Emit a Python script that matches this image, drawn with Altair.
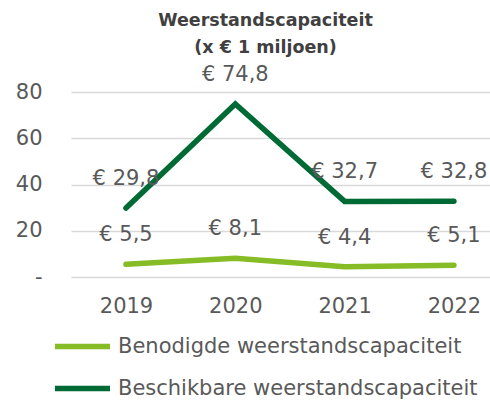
import altair as alt
import pandas as pd

years = [2019, 2020, 2021, 2022]
benodigd = [5.5, 8.1, 4.4, 5.1]
beschikbaar = [29.8, 74.8, 32.7, 32.8]
series_names = ["Benodigde weerstandscapaciteit", "Beschikbare weerstandscapaciteit"]
series_colors = ["#86BC25", "#006A35"]
y_ticks = [0, 20, 40, 60, 80]

rows = []
for name, vals in zip(series_names, [benodigd, beschikbaar]):
    for y, v in zip(years, vals):
        rows.append({"jaar": y, "waarde": v, "reeks": name,
                     "label": "€ " + f"{v:.1f}".replace(".", ",")})
df = pd.DataFrame(rows)

FONT = "DejaVu Sans"
GREY = "#595959"

x = alt.X("jaar:Q", scale=alt.Scale(domain=[2018.497, 2022.33], nice=False, zero=False),
          axis=alt.Axis(values=years, format="d", title=None, grid=False, ticks=False,
                        domain=False, labelFontSize=21, labelColor=GREY, labelFont=FONT,
                        labelPadding=18))
y = alt.Y("waarde:Q", scale=alt.Scale(domain=[0, 80], nice=False),
          axis=alt.Axis(values=y_ticks, title=None, ticks=False, domain=False,
                        gridColor="#D9D9D9", gridWidth=1.3,
                        labelExpr="datum.value == 0 ? '-' : datum.label",
                        labelFontSize=21, labelColor=GREY, labelFont=FONT,
                        labelPadding=29))
color = alt.Color("reeks:N", scale=alt.Scale(domain=series_names, range=series_colors),
                  legend=alt.Legend(title=None, orient="none", legendX=-19, legendY=224,
                                    direction="vertical", symbolType="stroke",
                                    symbolSize=3025, symbolStrokeWidth=5.5,
                                    rowPadding=-15, labelOffset=5, labelLimit=600,
                                    labelFontSize=21, labelColor=GREY, labelFont=FONT))

lines = alt.Chart(df).mark_line(strokeWidth=5.5, strokeCap="round", strokeJoin="miter").encode(
    x=x, y=y, color=color, detail="reeks:N")
labels = alt.Chart(df).mark_text(dy=-29, fontSize=21, font=FONT, color=GREY,
                                 align="center", baseline="middle").encode(
    x="jaar:Q", y="waarde:Q", text="label:N")

chart = alt.layer(lines, labels).properties(
    width=419, height=185,
    autosize=alt.AutoSizeParams(type="none"),
    padding={"left": 71, "top": 92, "right": 0, "bottom": 124},
    title=alt.TitleParams(["Weerstandscapaciteit", "(x € 1 miljoen)"], anchor="middle",
                          fontSize=17.5, fontWeight="bold", font=FONT, color="#404040",
                          lineHeight=27, offset=8, dx=-15),
).configure_view(stroke=None)

chart.save("out.html", embed_options={"renderer": "svg", "actions": False})
